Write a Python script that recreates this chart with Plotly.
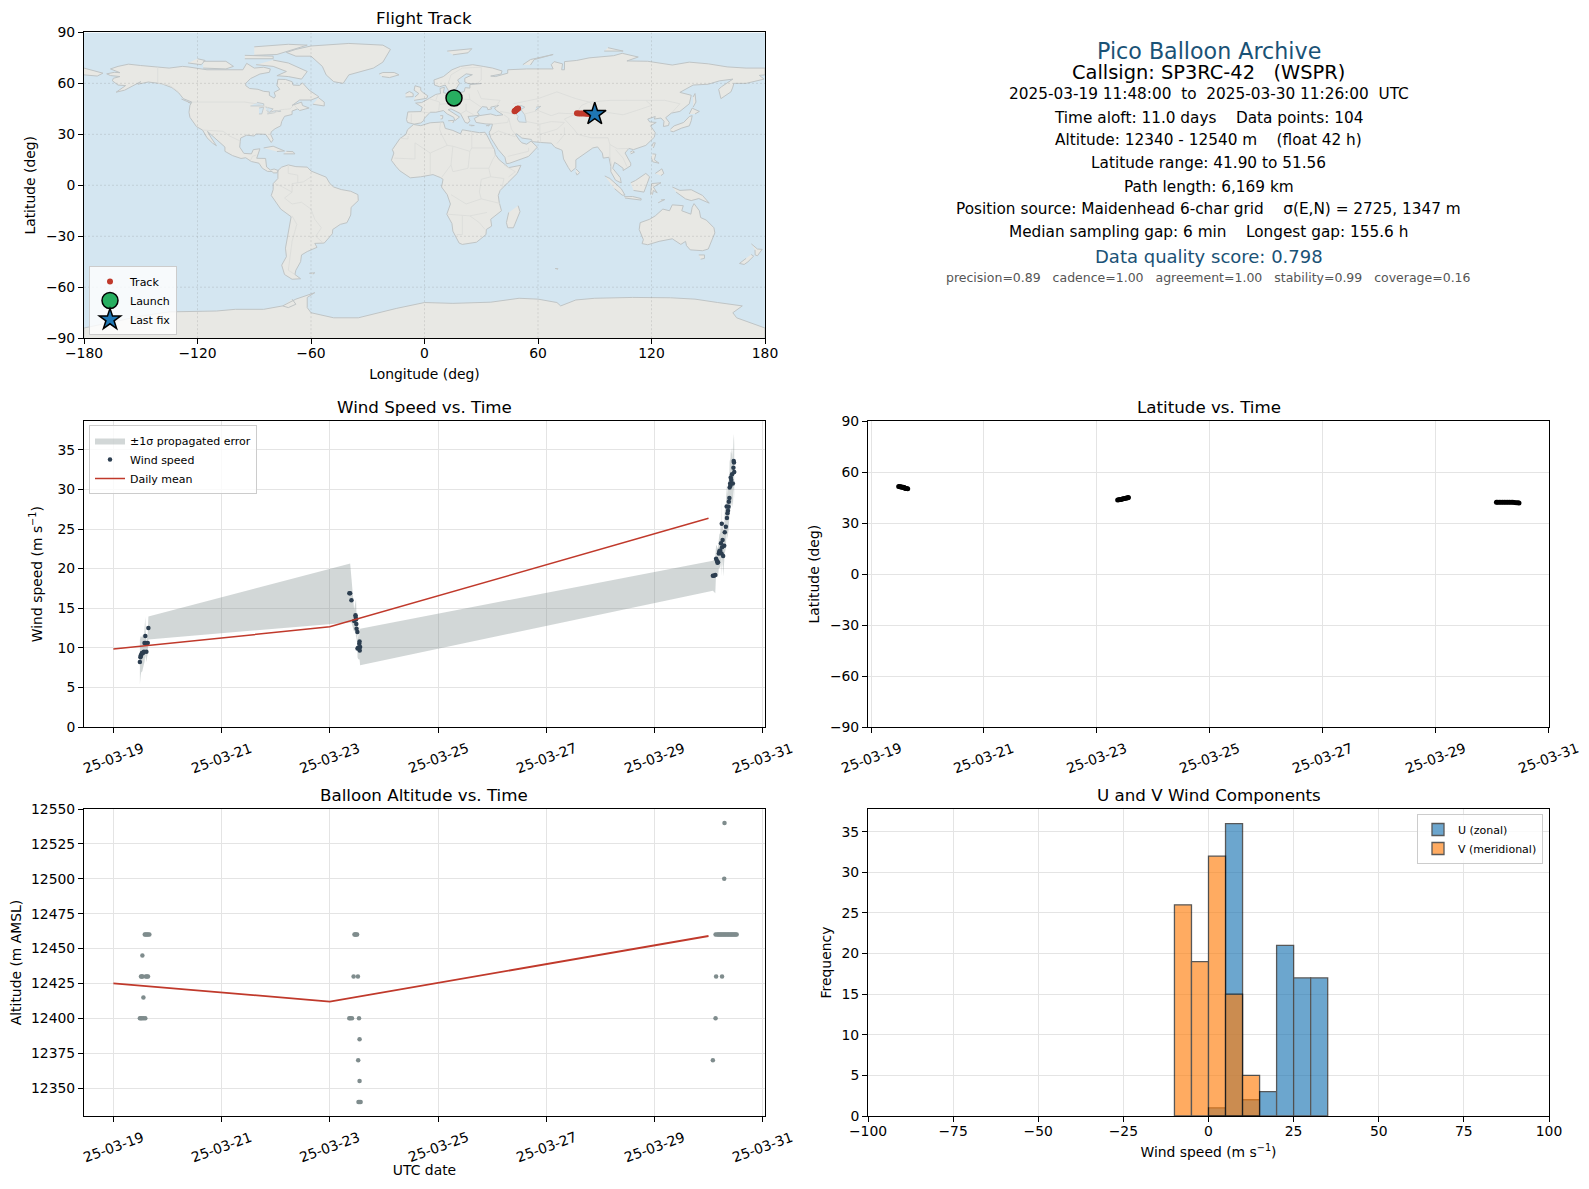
import numpy as np
import pandas as pd
import plotly.graph_objects as go

#FIGURE SIZE (the page keeps an 8 px body margin)
page_margin = 8
fig_w = 1573
fig_h = 1173

#LAND OUTLINES (lon, lat)
north_america = [(-168,65.6),(-164,66.5),(-161,66.3),(-163.5,67.5),(-166,68.5),(-162,70),(-156.5,71.3),(-150,70.5),(-141,69.7),(-135,69),(-128,70),(-125,69.7),(-115,68),(-108,68),(-100,68),(-96,68),(-94,71.8),(-90,69),(-85,69.5),(-81.5,68.5),(-82,66.5),(-87,65.5),(-92,62.8),(-94.5,60),(-94.5,58.7),(-92.5,57),(-88,56.5),(-85,55.3),(-82,55),(-82,52.9),(-79.5,51.3),(-78.8,52.5),(-79.5,54.7),(-76.5,56.5),(-78,58.7),(-77.5,62.4),(-73.5,62.3),(-70,61),(-69.5,59),(-66,58.8),(-64.5,60.3),(-61,56),(-57,53),(-55.8,52),(-60,50.2),(-66,50.2),(-70,47),(-65,49),(-64.5,47),(-61,45.5),(-66,44),(-67,45),(-70,43.7),(-70,41.7),(-74,40.6),(-75.5,37.5),(-76,35),(-79,33.3),(-81,31.5),(-81.3,30),(-80,26.8),(-81,25.2),(-82.7,28),(-84,30),(-89,30.2),(-90,29),(-94,29.5),(-97.2,27.8),(-97.7,22.5),(-95.5,18.8),(-91.5,18.5),(-90.5,21),(-87,21.5),(-88,18),(-88.7,15.9),(-84,15.8),(-83.5,12),(-83.5,10.8),(-81.5,9),(-79.5,9.6),(-77.3,8.7),(-78,7.3),(-80,7.3),(-80.5,8.1),(-83,8.2),(-85.7,10),(-87.5,13),(-91.5,14),(-94.5,16.2),(-97,15.8),(-101.5,17.5),(-105.5,20),(-105.5,22.5),(-109,26),(-112.5,30),(-114.7,31.7),(-112.8,28),(-110,23.3),(-112,24.8),(-115,28),(-117.3,32.5),(-120.5,34.5),(-124,40),(-124.5,43),(-124,47),(-123,49),(-127.5,51),(-130,54.5),(-133.5,57.5),(-139,59.8),(-146,60.8),(-151.5,59.5),(-150,61),(-155,58),(-158.5,56),(-163,54.8),(-158,58.7),(-162,59),(-165,61.5),(-164.5,63),(-161,64),(-166,64.6),(-168,65.6)]
south_america = [(-77.5,8.7),(-75.5,10.7),(-72,12),(-68,11),(-62,10.7),(-60,8.4),(-52,4.8),(-50,1),(-48,-1),(-44,-2.5),(-39,-3.5),(-35.2,-5.5),(-35,-9),(-38.8,-13),(-39,-17.5),(-41,-22),(-44.5,-23),(-48.5,-26),(-48.7,-28.5),(-53,-34),(-58,-34.2),(-56.8,-36.5),(-62,-39),(-65,-41),(-65.5,-45),(-68,-50),(-68.5,-52.5),(-65.5,-55),(-70,-55.3),(-74,-52.5),(-75.5,-47),(-73,-42),(-73.5,-37),(-70.5,-18.5),(-76,-14),(-81,-6),(-80,-2.5),(-80,1),(-77.5,4),(-77.5,8.7)]
africa = [(-5.8,35.8),(-2,35.1),(3,36.8),(10,37.3),(11,33.5),(15,32.3),(19,30.3),(20,32.7),(25,31.7),(29,31),(32,31.2),(33,29.5),(35.5,24),(37,21),(37.5,18),(39.5,15),(43,11.8),(44.5,10.4),(51,11.8),(49,7),(44,1.5),(40,-3),(39,-6),(39.5,-10),(40.7,-15),(35,-20),(35.5,-24),(32.7,-26),(32.5,-29),(27.5,-33.5),(20,-34.8),(18.3,-34),(15,-27),(14.5,-22.5),(11.8,-17),(13.7,-11),(12,-5.5),(9,-1),(9.8,3.5),(8.5,4.5),(4.5,6.3),(-2,5),(-7.5,4.4),(-13,8.5),(-15,11),(-17.5,14.7),(-16.2,19),(-17,21),(-13,27.5),(-9.8,30),(-9,32.7),(-5.8,35.8)]
eurasia = [(-5.5,36),(-9,37),(-9.5,38.7),(-8.8,43.2),(-1.8,43.4),(-1.2,46),(-4.7,48.4),(-1.5,48.7),(1.5,50.5),(4,52),(6,53.5),(8.5,54),(8.2,57),(10.5,57.7),(10,54.5),(12,54),(14.5,54),(18.8,54.5),(21,55.2),(21.5,57.5),(24,57.2),(24,59.3),(30,59.9),(23,59.9),(21.3,60.8),(21.3,63),(25.3,65.1),(22,65.6),(17.5,62),(18.5,60),(16.5,56.5),(14.5,55.6),(12.8,55.5),(11,59),(8,58),(5.3,59),(5,62),(10,64),(14.5,68),(19,70),(25.5,71),(31,70),(36,69),(41,67.3),(40.5,65.5),(35,64.3),(37.5,64),(44,66),(44,68),(54,68.5),(60,68.5),(68,68.5),(67,71),(68.5,72.8),(73,71.5),(72.5,68),(74,68),(74,72.8),(80.5,73.5),(87,75),(100,76.3),(104.5,77.7),(113,75.5),(107,73.2),(118,73),(129,71.2),(131,70.8),(140,72.5),(150,71.5),(160,69.7),(170,69),(180,69),(180,65),(177,64.7),(179.5,62.5),(170,60),(163.5,60),(163,57.8),(162,55),(156.7,51),(155.5,56.5),(157,58),(163,62.5),(156,61.5),(150,59.5),(142,59),(135,54.7),(141,53),(140,48),(135,43.5),(130.5,42.5),(127.5,39.8),(129.4,37),(129,35.2),(126.3,34.6),(126.6,37.7),(125,39.6),(121.5,39),(122,40.5),(118,39),(119,37.3),(122.5,37),(119.5,35),(122,31),(121.5,28.3),(117,23.5),(113.5,22.2),(110.5,21),(108,21.7),(106,19),(109,13),(109,11.5),(105,8.7),(105,10),(102,12.5),(100.5,13.5),(99.5,10),(103.5,4.5),(104,1.4),(101,3),(98.5,8),(98.5,11),(97.5,16.5),(94.5,16),(94,19),(91.5,22.6),(89,22),(86.5,20),(82,16.5),(80,15),(80,10.3),(77.5,8),(76,10.5),(73.5,15.5),(72.8,20.5),(72,21),(69,22.3),(67,24.8),(61.5,25.2),(57,25.7),(56.5,27),(51.5,27.8),(48.8,30.3),(48,30),(50.2,26.5),(51.5,25),(54,24.2),(56.3,26),(59.7,22.5),(55,17),(45,13),(43.3,12.7),(42.5,16.5),(39,21),(35,28),(34.8,29.5),(34.2,31.3),(35,32.5),(36,36),(32.5,36.1),(30.5,36.5),(27.3,37),(26.3,39.3),(29,41),(35,42),(38,41),(41.5,41.5),(38,44),(37,45.5),(39.2,47),(35,46),(35.5,45),(33.5,44.5),(33,46),(30.5,46.3),(28,43),(29,41.2),(26,40.8),(23,40.5),(24,38),(23,36.5),(21.5,37),(19.5,41),(19,42.2),(14,45),(12.5,44.5),(18.5,40.2),(16.8,39),(16,38),(15.5,40),(12,42),(10,44),(6,43),(3,43),(0,39.5),(-0.5,38),(-2,36.7),(-5.5,36)]
chukotka = [(-180,69),(-175,67.5),(-170,66),(-173,64.3),(-180,65)]
greenland = [(-73,78.2),(-68,80),(-60,82),(-40,83.5),(-22,82.5),(-18,80),(-22,72.5),(-27,69),(-40,65),(-43,60),(-48,61),(-52,65),(-54,70),(-60,76),(-68,76),(-73,78.2)]
australia = [(114,-22),(113.5,-26),(115.7,-32),(115,-34.3),(118,-35),(124,-33),(131,-31.5),(135.5,-34.8),(138,-33),(138.5,-35.5),(140.5,-38),(144,-38.5),(147,-38.5),(150,-37.5),(151.5,-33),(153.5,-28),(153,-25),(149,-20.5),(146,-19),(145.3,-15),(142.5,-10.8),(141.5,-13),(140.8,-17),(136,-15),(136.8,-12),(131,-11.5),(129.5,-15),(126,-14),(122,-18),(119,-20),(114,-22)]
antarctica = [(-180,-90),(-180,-84),(-150,-77),(-135,-74.5),(-110,-74),(-100,-73),(-85,-73),(-75,-71),(-68,-67),(-58,-63.2),(-62,-66),(-62,-72),(-60,-75),(-48,-78),(-35,-78),(-28,-76),(-15,-72.5),(0,-69),(15,-69.5),(35,-68.8),(50,-66.5),(60,-67),(70,-69),(72,-71),(80,-67.5),(90,-66.5),(110,-66),(130,-66.2),(143,-67),(155,-69),(168,-71),(163,-75),(165,-78),(170,-80),(180,-84),(180,-90)]
islands = [
    [(49.5,-12),(50.5,-15.5),(47,-25),(44,-25),(43.3,-22),(44.5,-16)],
    [(-5.5,50),(1.2,51.2),(1.7,52.7),(-1,54.7),(-2,56),(-2,57.6),(-5,58.6),(-5.5,56),(-3,54),(-5,52)],
    [(-10,52),(-6,52.2),(-6,54),(-8,55.2),(-10,54)],
    [(-24,65.5),(-22,66.4),(-16,66.4),(-13.5,65),(-18.5,63.4),(-22.5,64)],
    [(12,79),(25,80.4),(23,78),(15,76.8)],
    [(52,71),(56,74),(68,77),(58,74),(56,70.8)],
    [(95,79),(105,79),(97,81)],
    [(-80,73.7),(-72,72),(-62,67),(-65,62.5),(-72,64),(-78,64.5),(-73,67),(-80,70),(-89,71)],
    [(-117,69),(-105,68.5),(-101,70),(-105,73),(-117,73)],
    [(-90,76.5),(-78,77),(-62,82.5),(-72,83),(-90,81.5)],
    [(-125,72),(-118,71),(-116,73.5),(-120,74.5)],
    [(-95,74.5),(-80,74.5),(-80,76),(-95,76.5)],
    [(-59,47.7),(-53,46.7),(-53,49),(-56,51.5)],
    [(-85,22),(-80,23),(-74,20.2),(-78,19.9)],
    [(-74.5,18.5),(-68.5,18.5),(-69.5,19.8),(-73,20)],
    [(-128.5,50.8),(-123.5,48.4),(-125,48.8)],
    [(130,32),(131.5,31.5),(136,33.7),(140,35),(141,38),(141.5,41),(140,40.5),(137,37),(132,35),(130,33)],
    [(140,42),(141.5,45.4),(145.3,43.5),(143,42)],
    [(142,46),(143.5,49),(143,54),(142,52)],
    [(80,9.7),(82,7.5),(80.7,6),(80,7.5)],
    [(121,22),(122,25),(121,25),(120.2,23)],
    [(109,18.5),(111,19.5),(110,20.3),(108.7,19.5)],
    [(95.3,5.5),(98,4),(104,-2),(106,-5.8),(104.5,-5.8),(100.5,-2)],
    [(105.5,-6.7),(110,-6.6),(114.5,-7.8),(114.5,-8.7),(106,-7.5)],
    [(109,1.5),(111.5,2.8),(117,7),(119,5),(117.7,1),(116,-4),(110.5,-3)],
    [(119.5,-5.5),(120,1),(125,1.5),(121,-1),(123,-4.5),(121,-3),(120.5,-5.5)],
    [(131,-1),(135,-3),(141,-2.6),(147,-6),(150.5,-10.5),(145,-7.8),(141,-9),(138,-8),(133,-4)],
    [(123.5,-10.3),(127,-8.4),(125,-8.6)],
    [(120.5,18.5),(122.3,18.3),(121.5,15),(124,13),(120.7,13.8),(120,16)],
    [(122,7),(125.5,9.7),(126.5,7),(125,5.7)],
    [(145,-41),(148,-41),(148,-43),(146,-43.5)],
    [(172.8,-34.5),(176,-37.5),(178.5,-37.7),(176,-41.5),(174.8,-41),(174.7,-38)],
    [(172.7,-40.7),(174,-41.7),(171,-45),(169,-46.6),(166.5,-46),(170,-43)],
    [(23.5,35.5),(26.3,35.2),(24.5,35)],
    [(12.5,38),(15.5,38.2),(15,36.7)],
    [(8.3,41),(9.7,41),(9.5,39.2),(8.5,39)],
    [(32.5,35),(34.5,35.6),(33.5,34.7)],
    [(-61,-51.8),(-58,-51.5),(-59,-52.3)],
    [(69,-49),(70.5,-49),(70,-49.8)],
    [(-70,-67),(-68,-70),(-72,-72),(-75,-71)],
]
lakes = [
    [(47,45),(51,47),(53,46),(51,44.5),(53,41.5),(53.8,37),(50,37.3),(49,39),(49.5,40.5),(47.5,43)],
    [(-92,46.7),(-85,46.7),(-85,48),(-88.5,48.8)],
    [(-87.5,42),(-86,42),(-85,46),(-87.5,45.5)],
    [(-84,46),(-80,45),(-82,43),(-83.5,44)],
    [(-83,42),(-79,42.8),(-79,43.3),(-76,43.5),(-76.2,44),(-79.5,43.8),(-83,42.5)],
    [(58.5,44),(61.5,46.5),(59,46)],
]
borders = [
    [(-123,49),(-95,49),(-89,48),(-83,46),(-82.5,42.5),(-79,43),(-76,44.5),(-71,45),(-69,47.3),(-67,45)],
    [(-141,69.7),(-141,60),(-135,59),(-130,55)],
    [(-117,32.5),(-106.5,31.8),(-103,29),(-97.3,26)],
    [(-92,14.6),(-91,17),(-89,17.8)],
    [(-60,5),(-64,2),(-70,1),(-70,-4),(-74,-7.5),(-70,-11),(-65,-10),(-60,-14),(-58,-20),(-54.5,-25),(-57.5,-30),(-53.5,-34)],
    [(-70,-18),(-67.5,-23),(-70,-33),(-72,-50),(-68.5,-52.5)],
    [(-79,1),(-75,-1),(-70,-4)],
    [(-72,12),(-72,7),(-67,6),(-67,1.5)],
    [(-13,27.7),(-8.7,27.3),(-8.7,29)],
    [(-5,25),(3,19),(12,23.5),(15,23),(24,20),(25,22),(25,31.7)],
    [(25,22),(36.5,22)],
    [(9,30),(12,23.5)],
    [(8.5,37),(8,33),(9,30)],
    [(-16,16),(-5,15.5),(-5,25)],
    [(3,19),(3,12),(3,6.5)],
    [(15,23),(14,13),(14,12),(9,4.5)],
    [(24,20),(23,10),(15,8),(14,12)],
    [(24,10),(34,10),(36,15),(37.5,18)],
    [(34,10),(35,5),(42,4),(41,-1.5)],
    [(35,5),(30,3.5),(29,-4),(30,-8),(40,-10.7)],
    [(14,-5.5),(22,-11),(30,-8)],
    [(12,-17),(24,-18),(33,-16)],
    [(20,-18),(20,-29),(17,-29)],
    [(24,-18),(29,-22),(32,-26)],
    [(42,12),(48,8),(44.5,5)],
    [(28,56),(30,51),(40,50),(37.5,46)],
    [(40,43.5),(48,41.8)],
    [(47,48),(60,51),(70,55),(80,51),(87,49),(98,50),(107,50),(117,50),(127,50),(135,48),(131,43)],
    [(87,49),(91,45),(96,43),(105,41.5),(112,44),(120,47),(117,50)],
    [(53,42),(60,44),(67,41),(71,42.5),(80,42),(83,47),(87,49)],
    [(80,42),(74,39),(79,33),(81,30),(88,28),(97,28),(98,24),(102,21.5),(108,21.7)],
    [(74,34),(74,30),(70,24.5)],
    [(44.5,39.5),(46,33),(48,30)],
    [(61.5,25.2),(61,30),(61,36),(54,37.5)],
    [(61,30),(70,33),(74,37),(67,37.5),(61,36)],
    [(39,32),(47,29),(48,28.5)],
    [(39,32),(35,29.5)],
    [(44,17),(52,19),(55,20),(55,22)],
    [(36,36),(44,37),(44.5,39.5),(42,41.5)],
    [(-1.8,43.3),(3,42.5)],
    [(-7,37),(-7,42)],
    [(2.5,51),(8,49),(7.5,44)],
    [(7,53.5),(6,50)],
    [(15,51),(14,54)],
    [(8,47.7),(17,48.5),(14,46.5)],
    [(15,51),(24,50.5),(23.5,54)],
    [(24,50.5),(30,46)],
    [(22,48),(22,44),(26,41.5)],
    [(19,42),(22,44)],
    [(12.5,60),(14,65),(20,69),(26,69.5),(30,69.5),(30,62),(28,60)],
    [(98,24),(98,17),(99,11)],
    [(101,21),(105,16),(107,11)],
]

#TRACK ON THE MAP
track_lon = [14.8,15.2,15.6,16.0,16.4,17.0,47.6,47.9,48.2,48.5,48.8,49.2,49.5,80.6,81.5,82.5,83.5,84.5,85.5,86.5,87.5,88.5,89.5,90.0]
track_lat = [51.56,51.3,51.1,50.9,50.6,50.3,43.6,43.9,44.1,44.4,44.7,45.0,45.2,42.4,42.3,42.3,42.2,42.2,42.1,42.1,42.0,42.0,41.9,41.9]
launch_lon = [15.6]
launch_lat = [51.4]
last_lon = [90.0]
last_lat = [41.9]

#WIND SPEED (days after 2025-03-19 00:00, m/s)
wind_day = [0.490,0.500,0.505,0.515,0.525,0.535,0.545,0.555,0.565,0.575,0.590,0.597,0.610,0.635,0.647,
            4.362,4.376,4.400,4.450,4.475,4.478,4.485,4.490,4.495,4.510,4.512,4.525,4.545,4.550,4.553,4.560,
            11.080,11.100,11.125,11.140,11.155,11.165,11.175,11.190,11.200,11.215,11.230,11.240,11.245,11.250,11.260,11.270,11.290,
            11.300,11.320,11.335,11.340,11.350,11.360,11.370,11.375,11.385,11.390,11.400,11.405,11.410,11.420,11.435,11.450,11.460,11.465,11.470,11.475]
wind_speed = [8.2,8.8,9.0,9.1,9.3,9.35,9.35,9.45,9.5,10.6,11.5,10.6,9.5,10.6,12.5,
              16.9,16.9,16.0,13.4,14.1,13.9,13.6,13.0,12.4,12.0,9.9,10.0,10.5,10.8,9.65,10.1,
              19.1,19.1,19.2,21.25,21.0,20.75,20.8,21.9,22.2,22.3,23.2,21.9,25.65,22.7,23.6,21.6,22.9,
              24.6,25.3,27.85,26.4,27.0,27.3,27.8,28.45,28.9,30.25,30.75,30.45,31.5,31.2,31.9,30.75,32.75,33.6,33.4,32.2]
wind_sigma = [2.8,2.7,2.5,2.2,2.3,2.3,2.0,2.0,1.8,2.4,2.4,1.6,1.3,1.3,1.45,
              3.7,3.75,2.8,1.4,1.7,1.4,2.55,1.5,1.4,1.8,1.1,1.4,2.0,2.2,1.6,2.3,
              1.9,2.0,2.3,1.7,1.9,1.8,1.9,1.9,2.1,2.2,2.5,2.9,3.2,2.6,2.4,2.6,2.6,
              2.7,2.7,2.9,2.8,2.9,2.9,3.0,3.1,3.1,3.2,3.2,3.2,3.3,3.3,3.4,3.0,3.4,3.4,3.6,3.4]
daily_day = [0,4,11]
daily_wind = [9.85,12.65,26.35]
daily_alt = [12425,12412,12459]

#LATITUDE
lat_day = [0.49,0.51,0.52,0.54,0.55,0.57,0.58,0.59,0.60,0.61,0.63,0.65,
           4.37,4.39,4.41,4.43,4.45,4.47,4.49,4.51,4.53,4.55,4.56,
           11.08,11.10,11.13,11.16,11.19,11.22,11.25,11.28,11.31,11.34,11.37,11.40,11.43,11.46,11.48]
lat_deg = [51.56,51.5,51.4,51.3,51.2,51.1,51.0,50.9,50.7,50.5,50.4,50.3,
           43.6,43.8,43.9,44.0,44.2,44.4,44.5,44.7,44.9,45.0,45.2,
           42.4,42.3,42.4,42.4,42.4,42.4,42.4,42.4,42.4,42.3,42.3,42.2,42.1,42.0,41.9]

#ALTITUDE
alt_day = [0.58,0.60,0.62,0.64,0.665,0.536,0.51,0.525,0.54,0.60,0.62,0.64,0.555,0.49,0.51,0.53,0.56,0.59,
           4.456,4.47,4.485,4.505,4.44,4.52,4.36,4.38,4.41,4.54,4.55,4.525,4.55,4.53,4.55,4.57,
           11.13,11.16,11.18,11.20,11.22,11.24,11.26,11.28,11.30,11.32,11.34,11.36,11.38,11.40,11.42,11.44,11.46,11.48,11.50,11.52,
           11.295,11.29,11.14,11.25,11.13,11.08]
alt_m = [12460,12460,12460,12460,12460,12445,12430,12430,12430,12430,12430,12430,12415,12400,12400,12400,12400,12400,
         12460,12460,12460,12460,12430,12430,12400,12400,12400,12400,12385,12370,12355,12340,12340,12340,
         12460,12460,12460,12460,12460,12460,12460,12460,12460,12460,12460,12460,12460,12460,12460,12460,12460,12460,12460,12460,
         12540,12500,12430,12430,12400,12370]

#WIND COMPONENT HISTOGRAM
bin_width = 5
u_bins = [2.5,7.5,12.5,17.5,22.5,27.5,32.5]
u_counts = [1,36,2,3,21,17,17]
v_bins = [-7.5,-2.5,2.5,7.5,12.5]
v_counts = [26,19,32,15,5]

#AXIS TICKS
lon_ticks = [-180,-120,-60,0,60,120,180]
lat_ticks = [-90,-60,-30,0,30,60,90]
date_ticks = ['2025-03-19','2025-03-21','2025-03-23','2025-03-25','2025-03-27','2025-03-29','2025-03-31']
date_labels = ['25-03-19','25-03-21','25-03-23','25-03-25','25-03-27','25-03-29','25-03-31']

#COLOURS
red = '#c0392b'
navy = '#1a5276'
ocean = '#d4e6f1'
land = '#e8e8e4'
coast = '#bfc4c5'


def toTime(days):
    return pd.Timestamp('2025-03-19') + pd.to_timedelta(days, unit='D')


def polyXY(shapes):
    lon, lat = [], []
    for shape in shapes:
        lon += [p[0] for p in shape] + [None]
        lat += [p[1] for p in shape] + [None]
    return lon, lat


def xFrac(px):
    return (px - page_margin)/fig_w


def yFrac(px):
    return 1 - (px - page_margin)/fig_h


def axisDict():
    axDICT = dict(  linecolor = 'black',
                    linewidth = 1,
                    mirror = True,
                    ticks = 'outside',
                    ticklen = 5,
                    tickwidth = 1,
                    tickcolor = 'black',
                    showgrid = True,
                    gridcolor = '#e4e4e4',
                    gridwidth = 1,
                    zeroline = False,
                    automargin = False,
                    title_font_size = 13.9,
                    tickfont_size = 13.9)
    return axDICT


#Rotated date labels are centred under their ticks, as plotly would hang them off the tick end
def timeAxis(col, xrange):
    ax = axisDict()
    ax.update(domain = [xFrac(col[0]), xFrac(col[1])],
              type = 'date',
              range = xrange,
              tickmode = 'array',
              tickvals = date_ticks,
              showticklabels = False)
    return ax


def dateLabels(xref, row):
    for tick, label in zip(date_ticks, date_labels):
        fig.add_annotation(text = label, xref = xref, yref = 'paper', x = tick, y = yFrac(row[1] + 31),
                           xanchor = 'center', yanchor = 'middle', textangle = -20,
                           showarrow = False, font_size = 13.9, borderpad = 0)


def yDomain(row):
    return [yFrac(row[1]), yFrac(row[0])]


layout = go.Layout( font = dict(family = 'DejaVu Sans', color = 'black', size = 13.9),
                    width = fig_w,
                    height = fig_h,
                    margin = dict(l=0, r=0, t=0, b=0),
                    paper_bgcolor = 'white',
                    plot_bgcolor = 'white',
                    barmode = 'overlay')
fig = go.Figure(layout=layout)

col1 = (84, 765)
col2 = (868, 1549)
row1 = (32.4, 338.2)
row2 = (421.3, 727)
row3 = (809, 1116)

#MAP AXES
xax = axisDict()
xax.update(domain = [xFrac(col1[0]), xFrac(col1[1])], range = [-180,180], tickmode = 'array', tickvals = lon_ticks,
           showgrid = False, anchor = 'y', ticklabelstandoff = -3, title = dict(text = 'Longitude (deg)', standoff = 9))
yax = axisDict()
yax.update(domain = yDomain(row1), range = [-90,90], tickmode = 'array', tickvals = lat_ticks,
           showgrid = False, anchor = 'x', title = dict(text = 'Latitude (deg)', standoff = 7))
fig.update_layout(xaxis = xax, yaxis = yax)
fig.add_shape(type = 'rect', xref = 'x', yref = 'y', x0 = -180, x1 = 180, y0 = -90, y1 = 90,
              fillcolor = ocean, line_width = 0, layer = 'below')

lon, lat = polyXY([north_america, south_america, africa, eurasia, chukotka, greenland, australia, antarctica] + islands)
fig.add_trace(go.Scatter(x = lon, y = lat, mode = 'lines', fill = 'toself', fillcolor = land,
                         line = dict(color = coast, width = 1), hoverinfo = 'skip', showlegend = False))
lon, lat = polyXY(lakes)
fig.add_trace(go.Scatter(x = lon, y = lat, mode = 'lines', fill = 'toself', fillcolor = ocean,
                         line = dict(color = coast, width = 0.8), hoverinfo = 'skip', showlegend = False))
lon, lat = polyXY(borders)
fig.add_trace(go.Scatter(x = lon, y = lat, mode = 'lines', line = dict(color = '#dbdcd9', width = 0.8),
                         hoverinfo = 'skip', showlegend = False))

#Map grid has to sit above the land
grid_x, grid_y = [], []
for t in lon_ticks[1:-1]:
    grid_x += [t, t, None]
    grid_y += [-90, 90, None]
for t in lat_ticks[1:-1]:
    grid_x += [-180, 180, None]
    grid_y += [t, t, None]
fig.add_trace(go.Scatter(x = grid_x, y = grid_y, mode = 'lines', line = dict(color = 'rgba(120,120,120,0.25)', width = 0.8, dash = '2px,2px'),
                         hoverinfo = 'skip', showlegend = False))

fig.add_trace(go.Scatter(x = track_lon, y = track_lat, mode = 'markers', name = 'Track', legend = 'legend',
                         marker = dict(color = red, size = 6)))
fig.add_trace(go.Scatter(x = launch_lon, y = launch_lat, mode = 'markers', name = 'Launch', legend = 'legend',
                         marker = dict(color = '#27ae60', size = 16, line = dict(color = 'black', width = 1.5))))
fig.add_trace(go.Scatter(x = last_lon, y = last_lat, mode = 'markers', name = 'Last fix', legend = 'legend',
                         marker = dict(color = '#1f77b4', size = 17, symbol = 'star', line = dict(color = 'black', width = 1.5))))

#WIND SPEED
wind_x = toTime(wind_day)
speed = np.array(wind_speed)
sigma = np.array(wind_sigma)
band_x = list(wind_x) + list(wind_x[::-1])
band_y = list(speed + sigma) + list((speed - sigma)[::-1])
fig.add_trace(go.Scatter(x = band_x, y = band_y, xaxis = 'x2', yaxis = 'y2', mode = 'lines', fill = 'toself',
                         fillcolor = 'rgba(127,140,141,0.35)', line_width = 0, name = '±1σ propagated error', legend = 'legend2'))
fig.add_trace(go.Scatter(x = wind_x, y = wind_speed, xaxis = 'x2', yaxis = 'y2', mode = 'markers',
                         marker = dict(color = '#2c3e50', size = 4.5), name = 'Wind speed', legend = 'legend2'))
fig.add_trace(go.Scatter(x = toTime(daily_day), y = daily_wind, xaxis = 'x2', yaxis = 'y2', mode = 'lines',
                         line = dict(color = red, width = 1.5), name = 'Daily mean', legend = 'legend2'))

left_range = ['2025-03-18 10:58', '2025-03-31 01:03']
xax2 = timeAxis(col1, left_range)
xax2.update(anchor = 'y2')
yax2 = axisDict()
yax2.update(domain = yDomain(row2), range = [0,38.6], dtick = 5, anchor = 'x2',
            title = dict(text = 'Wind speed (m s<sup>−1</sup>)', standoff = 11))
fig.update_layout(xaxis2 = xax2, yaxis2 = yax2)
dateLabels('x2', row2)

#LATITUDE
fig.add_trace(go.Scatter(x = toTime(lat_day), y = lat_deg, xaxis = 'x3', yaxis = 'y3', mode = 'markers',
                         marker = dict(color = 'black', size = 5), showlegend = False))
xax3 = timeAxis(col2, ['2025-03-18 22:43', '2025-03-31 00:17'])
xax3.update(anchor = 'y3')
yax3 = axisDict()
yax3.update(domain = yDomain(row2), range = [-90,90], tickmode = 'array', tickvals = lat_ticks, anchor = 'x3',
            title = dict(text = 'Latitude (deg)', standoff = 7))
fig.update_layout(xaxis3 = xax3, yaxis3 = yax3)
dateLabels('x3', row2)

#ALTITUDE
fig.add_trace(go.Scatter(x = toTime(alt_day), y = alt_m, xaxis = 'x4', yaxis = 'y4', mode = 'markers',
                         marker = dict(color = '#7f8c8d', size = 4.5), showlegend = False))
fig.add_trace(go.Scatter(x = toTime(daily_day), y = daily_alt, xaxis = 'x4', yaxis = 'y4', mode = 'lines',
                         line = dict(color = red, width = 1.8), showlegend = False))
xax4 = timeAxis(col1, left_range)
xax4.update(anchor = 'y4', title = dict(text = 'UTC date', standoff = 44))
yax4 = axisDict()
yax4.update(domain = yDomain(row3), range = [12330,12550], dtick = 25, tickformat = 'd', anchor = 'x4',
            title = dict(text = 'Altitude (m AMSL)', standoff = 7))
fig.update_layout(xaxis4 = xax4, yaxis4 = yax4)
dateLabels('x4', row3)

#U AND V COMPONENTS
fig.add_trace(go.Bar(x = u_bins, y = u_counts, width = bin_width, xaxis = 'x5', yaxis = 'y5', opacity = 0.65,
                     marker = dict(color = '#1f77b4', line = dict(color = 'black', width = 1.3)),
                     name = 'U (zonal)', legend = 'legend3'))
fig.add_trace(go.Bar(x = v_bins, y = v_counts, width = bin_width, xaxis = 'x5', yaxis = 'y5', opacity = 0.65,
                     marker = dict(color = '#ff7f0e', line = dict(color = 'black', width = 1.3)),
                     name = 'V (meridional)', legend = 'legend3'))
xax5 = axisDict()
xax5.update(domain = [xFrac(col2[0]), xFrac(col2[1])], range = [-100,100], dtick = 25, anchor = 'y5', ticklabelstandoff = -3,
            title = dict(text = 'Wind speed (m s<sup>−1</sup>)', standoff = 9))
yax5 = axisDict()
yax5.update(domain = yDomain(row3), range = [0,37.8], dtick = 5, anchor = 'x5',
            title = dict(text = 'Frequency', standoff = 6))
fig.update_layout(xaxis5 = xax5, yaxis5 = yax5)

#LEGENDS
def legendDict(x, y, xanchor, yanchor):
    return dict(x = xFrac(x), y = yFrac(y), xanchor = xanchor, yanchor = yanchor,
                font_size = 11, bgcolor = 'rgba(255,255,255,0.8)',
                bordercolor = '#cccccc', borderwidth = 1, itemsizing = 'trace')

fig.update_layout(legend = legendDict(89, 335, 'left', 'bottom'),
                  legend2 = legendDict(89, 425, 'left', 'top'),
                  legend3 = legendDict(1543, 814, 'right', 'top'))

#SUBPLOT TITLES
titles = ['Flight Track', 'Wind Speed vs. Time', 'Latitude vs. Time', 'Balloon Altitude vs. Time', 'U and V Wind Components']
title_x = [sum(col1)/2, sum(col1)/2, sum(col2)/2, sum(col1)/2, sum(col2)/2]
title_y = [row1[0], row2[0], row2[0], row3[0], row3[0]]
for text, x, y in zip(titles, title_x, title_y):
    fig.add_annotation(text = text, xref = 'paper', yref = 'paper', x = xFrac(x), y = yFrac(y - 4),
                       xanchor = 'center', yanchor = 'bottom', showarrow = False, font_size = 16.7, borderpad = 0,
                       height = 19)

#SUMMARY PANEL
summary_lines = ['Pico Balloon Archive',
                 'Callsign: SP3RC-42\u00a0\u00a0\u00a0(WSPR)',
                 '2025-03-19 11:48:00\u00a0\u00a0to\u00a0\u00a02025-03-30 11:26:00\u00a0\u00a0UTC',
                 'Time aloft: 11.0 days\u00a0\u00a0\u00a0\u00a0Data points: 104',
                 'Altitude: 12340 - 12540 m\u00a0\u00a0\u00a0\u00a0(float 42 h)',
                 'Latitude range: 41.90 to 51.56',
                 'Path length: 6,169 km',
                 'Position source: Maidenhead 6-char grid\u00a0\u00a0\u00a0\u00a0σ(E,N) = 2725, 1347 m',
                 'Median sampling gap: 6 min\u00a0\u00a0\u00a0\u00a0Longest gap: 155.6 h',
                 'Data quality score: 0.798',
                 'precision=0.89\u00a0\u00a0\u00a0cadence=1.00\u00a0\u00a0\u00a0agreement=1.00\u00a0\u00a0\u00a0stability=0.99\u00a0\u00a0\u00a0coverage=0.16']
summary_y = [50.7, 73, 94, 117.7, 140, 163, 186.7, 209, 232, 256.7, 277.7]
summary_size = [22.2, 19.4, 15.3, 15.3, 15.3, 15.3, 15.3, 15.3, 15.3, 18, 12.5]
summary_color = [navy, 'black', 'black', 'black', 'black', 'black', 'black', 'black', 'black', navy, '#555555']
for text, y, size, color in zip(summary_lines, summary_y, summary_size, summary_color):
    fig.add_annotation(text = text, xref = 'paper', yref = 'paper', x = xFrac(sum(col2)/2), y = yFrac(y),
                       xanchor = 'center', yanchor = 'middle', showarrow = False, font = dict(size = size, color = color))

fig.write_html("out.html")
